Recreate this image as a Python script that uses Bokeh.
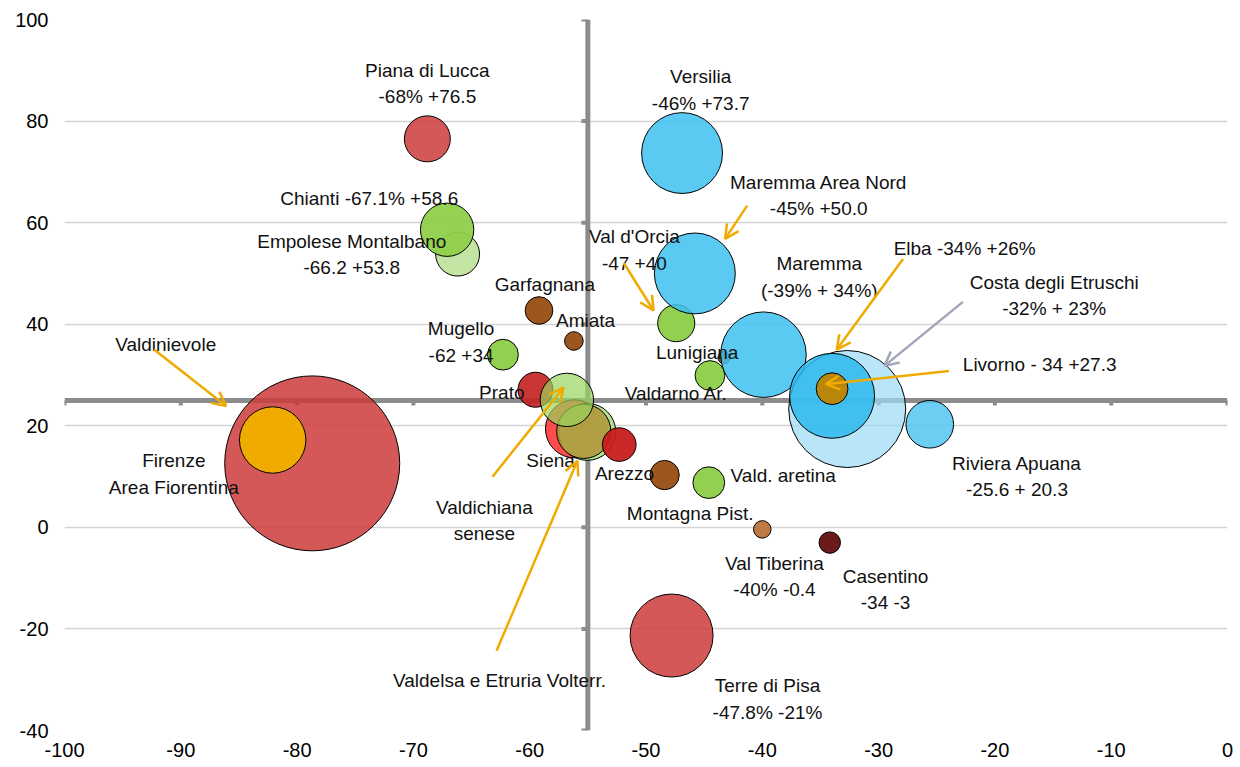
from bokeh.plotting import figure
from bokeh.models import ColumnDataSource, Arrow, OpenHead, FixedTicker, Range1d
from bokeh.core.properties import value
from bokeh.embed import file_html
from bokeh.resources import INLINE

# ---------------- data (draw order) ----------------
names = ["Firenze Area Fiorentina", "Valdinievole", "Piana di Lucca", "Empolese Montalbano",
         "Chianti", "Garfagnana", "Amiata", "Mugello", "Prato", "Siena",
         "Valdelsa (verde)", "Valdelsa e Etruria Volterr.", "Valdichiana senese", "Arezzo",
         "Lunigiana", "Val d'Orcia", "Maremma Area Nord", "Versilia", "Valdarno Ar.",
         "Maremma", "Costa degli Etruschi", "Elba", "Livorno", "Riviera Apuana",
         "Montagna Pist.", "Vald. aretina", "Val Tiberina", "Casentino", "Terre di Pisa"]
x_vals = [-78.7, -82.1, -68.8, -66.2, -67.1, -59.2, -56.2, -62.3, -59.5, -56.15,
          -55.05, -55.35, -56.8, -52.3, -43.3, -47.4, -45.8, -46.9, -44.5,
          -39.9, -32.7, -34.0, -34.0, -25.6, -48.4, -44.6, -40.0, -34.2, -47.8]
y_vals = [12.6, 17.2, 76.5, 53.8, 58.6, 42.7, 36.7, 34.0, 27.1, 19.4,
          18.8, 18.9, 25.1, 16.3, 33.4, 40.2, 50.0, 73.7, 29.9,
          34.0, 23.3, 25.9, 27.3, 20.3, 10.3, 8.8, -0.4, -3.0, -21.3]
sizes = [100, 14.4, 6.9, 6.3, 9.3, 2.5, 1.13, 3.1, 4.0, 11.0,
         10.6, 9.6, 9.3, 3.7, 0.47, 4.5, 21.4, 21.4, 2.9,
         23.9, 44.7, 23.6, 3.3, 7.4, 2.8, 3.3, 1.0, 1.5, 22.5]
colors = ["#CC3B3B", "#F0AB00", "#CC3B3B", "#C3E4A2", "#8FCF4A", "#9E561F", "#9E561F", "#92D050",
          "#C42020", "#FF2B2B", "#A9DC7C", "#B09A3E", "#98D45B", "#C81C1C",
          "#9E561F", "#92D050", "#3EC1F1", "#3EC1F1", "#92D050",
          "#3EC1F1", "#9ADBF5", "#2BB8EE", "#B8860B", "#52C6F1",
          "#9E561F", "#92D050", "#BD7A45", "#6A1B1B", "#CC3B3B"]
alphas = [0.85, 1, 0.85, 1, 0.95, 1, 1, 1, 0.9, 0.85,
          0.85, 0.9, 0.7, 0.95, 1, 1, 0.85, 0.85, 1,
          0.85, 0.7, 0.85, 1, 0.85, 1, 1, 1, 1, 0.85]

# ---------------- labels ----------------
label_text = ["Piana di Lucca\n-68% +76.5", "Versilia\n-46% +73.7", "Maremma Area Nord\n-45% +50.0",
              "Chianti -67.1% +58.6", "Empolese Montalbano\n-66.2 +53.8", "Garfagnana", "Amiata",
              "Mugello\n-62 +34", "Valdinievole", "Val d'Orcia\n-47 +40", "Maremma\n(-39% + 34%)",
              "Elba -34% +26%", "Costa degli Etruschi\n-32% + 23%", "Livorno - 34 +27.3", "Lunigiana",
              "Valdarno Ar.", "Prato", "Siena", "Arezzo", "Vald. aretina", "Montagna Pist.",
              "Val Tiberina\n-40% -0.4", "Casentino\n-34 -3", "Riviera Apuana\n-25.6 + 20.3",
              "Terre di Pisa\n-47.8% -21%", "Firenze\nArea Fiorentina", "Valdichiana\nsenese",
              "Valdelsa e Etruria Volterr."]
label_x = [-68.8, -45.3, -35.15, -73.8, -75.3, -58.7, -55.2, -65.9, -91.3, -51.0, -35.1,
           -22.6, -14.9, -16.15, -45.6, -47.4, -62.4, -58.2, -51.85, -38.2, -46.2,
           -38.95, -29.4, -18.1, -39.55, -90.6, -63.9, -62.6]
label_y = [87.4, 86.1, 65.3, 64.7, 53.7, 47.8, 40.7, 36.5, 36.0, 54.6, 49.3,
           54.9, 45.6, 32.0, 34.4, 26.4, 26.6, 13.2, 10.6, 10.3, 2.7,
           -9.7, -12.3, 10.0, -33.8, 10.5, 1.3, -30.2]

# ---------------- arrows ----------------
arrow_x0 = [-92.3, -41.3, -51.9, -27.9, -22.75, -23.95, -63.2, -62.85]
arrow_y0 = [35.0, 63.35, 52.0, 52.85, 44.4, 30.8, 9.95, -24.3]
arrow_x1 = [-86.1, -43.2, -49.35, -33.6, -29.5, -34.55, -57.1, -55.9]
arrow_y1 = [23.9, 56.8, 42.7, 35.0, 31.8, 28.2, 27.5, 13.1]
arrow_col = ["#F0AB00", "#F0AB00", "#F0AB00", "#F0AB00", "#A0A6B8", "#F0AB00", "#F0AB00", "#F0AB00"]

x_ticks = list(range(-100, 1, 10))
y_ticks = list(range(-40, 101, 20))
cross_x = -55
cross_y = 25

FONT = "Liberation Sans"

p = figure(width=1236, height=767, x_range=Range1d(-100, 0), y_range=Range1d(-40, 100),
           output_backend="svg", toolbar_location=None,
           min_border_left=64, min_border_right=9, min_border_top=19, min_border_bottom=37)
p.outline_line_color = None
p.background_fill_color = "white"
p.xgrid.grid_line_color = None
p.ygrid.grid_line_color = "#D4D4D4"
p.ygrid.grid_line_width = 1.6
p.xaxis.ticker = FixedTicker(ticks=x_ticks)
p.yaxis.ticker = FixedTicker(ticks=y_ticks)
p.xaxis.major_label_overrides = {t: str(t) for t in x_ticks}
p.yaxis.major_label_overrides = {t: str(t) for t in y_ticks}
for ax in (p.xaxis, p.yaxis):
    ax.axis_line_color = None
    ax.major_tick_line_color = None
    ax.minor_tick_line_color = None
    ax.major_tick_out = 0
    ax.major_tick_in = 0
    ax.major_label_text_font = FONT
    ax.major_label_text_font_size = "20px"
    ax.major_label_text_color = "#000000"
p.xaxis.major_label_standoff = 12
p.yaxis.major_label_standoff = 16

# crossing axes (drawn under bubbles)
axcol = "#8C8C8C"
p.segment(x0=[cross_x], y0=[-40], x1=[cross_x], y1=[100], line_color=axcol, line_width=5)
p.segment(x0=[-100], y0=[cross_y], x1=[0], y1=[cross_y], line_color=axcol, line_width=5)
# tick marks of crossing axes
p.segment(x0=x_ticks, y0=[cross_y] * len(x_ticks), x1=x_ticks, y1=[cross_y - 1.0] * len(x_ticks),
          line_color=axcol, line_width=4)
p.segment(x0=[cross_x] * len(y_ticks), y0=y_ticks, x1=[cross_x - 0.55] * len(y_ticks), y1=y_ticks,
          line_color=axcol, line_width=4)

diam = [175 * (s / 100) ** 0.5 for s in sizes]
src = ColumnDataSource(dict(x=x_vals, y=y_vals, d=diam, c=colors, a=alphas, n=names))
p.scatter("x", "y", size="d", source=src, fill_color="c", fill_alpha="a",
          line_color="#000000", line_width=1)

lsrc = ColumnDataSource(dict(x=label_x, y=label_y, t=label_text))
p.text("x", "y", text="t", source=lsrc, text_align="center", text_baseline="middle",
       text_font=value(FONT), text_font_size="19px", text_color="#111111", text_line_height=1.25)

for x0, y0, x1, y1, c in zip(arrow_x0, arrow_y0, arrow_x1, arrow_y1, arrow_col):
    p.add_layout(Arrow(end=OpenHead(size=14, line_color=c, line_width=2.5),
                       x_start=x0, y_start=y0, x_end=x1, y_end=y1,
                       line_color=c, line_width=2.5))

open("out.html", "w").write(file_html(p, INLINE))
